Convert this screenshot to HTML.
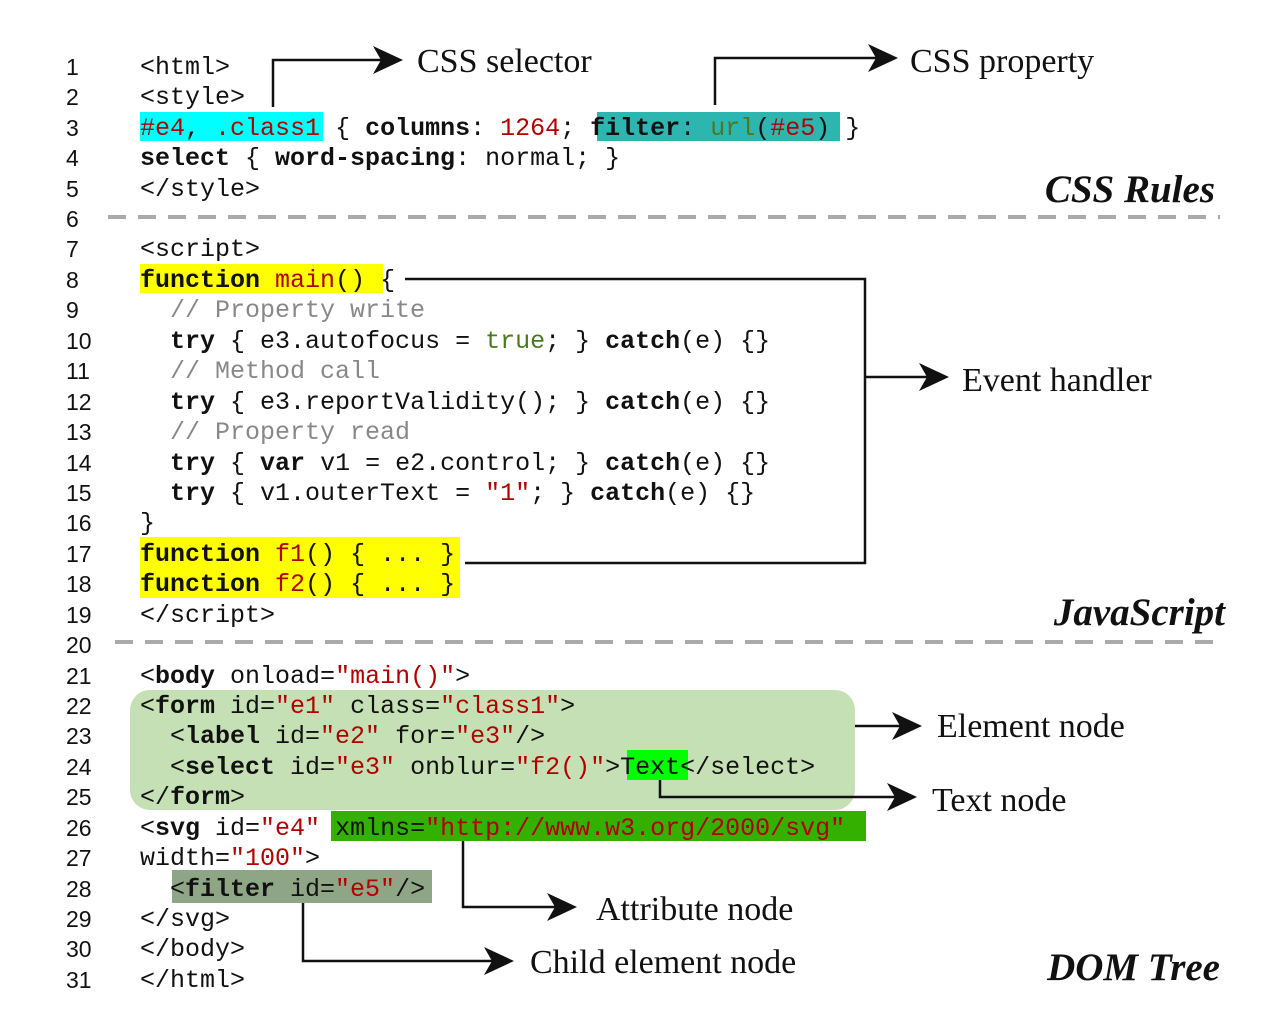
<!DOCTYPE html>
<html><head><meta charset="utf-8"><style>
body{margin:0;width:1272px;height:1020px;background:#fff;position:relative;overflow:hidden}
.l{position:absolute;left:140px;font:25px "Liberation Mono",monospace;line-height:30px;white-space:pre;color:#111;height:30px;margin-top:2px}
.n{position:absolute;left:66px;font:23px "Liberation Sans",sans-serif;line-height:30px;color:#111;margin-top:1px}
b{font-weight:bold}
.s{color:#b00000}.c{color:#888}.g{color:#4a7a20}
.r{position:absolute}
.t{position:absolute;font:34px "Liberation Serif",serif;color:#111;line-height:40px;white-space:nowrap}
.h{position:absolute;font:bold italic 39px "Liberation Serif",serif;color:#111;line-height:40px;white-space:nowrap}
</style></head><body>
<div class="r" style="left:140px;top:112px;width:183px;height:29px;background:#00ffff"></div>
<div class="r" style="left:597px;top:112px;width:243px;height:29px;background:#2db5b0"></div>
<div class="r" style="left:140px;top:264px;width:243px;height:29px;background:#ffff00"></div>
<div class="r" style="left:140px;top:537px;width:320px;height:61px;background:#ffff00"></div>
<div class="r" style="left:130px;top:690px;width:725px;height:120px;background:#c5e0b4;border-radius:20px"></div>
<div class="r" style="left:627px;top:750px;width:61px;height:30px;background:#00ff00"></div>
<div class="r" style="left:331px;top:811px;width:535px;height:30px;background:#33b000"></div>
<div class="r" style="left:172px;top:870px;width:260px;height:33px;background:#8fa686"></div>

<div class="n" style="top:51px">1</div><div class="l" style="top:51px">&lt;html&gt;</div>
<div class="n" style="top:81px">2</div><div class="l" style="top:81px">&lt;style&gt;</div>
<div class="n" style="top:112px">3</div><div class="l" style="top:112px"><span class="s">#e4</span>, <span class="s">.class1</span> { <b>columns</b>: <span class="s">1264</span>; <b>filter</b>: <span class="g">url</span>(<span class="s">#e5</span>) }</div>
<div class="n" style="top:142px">4</div><div class="l" style="top:142px"><b>select</b> { <b>word-spacing</b>: normal; }</div>
<div class="n" style="top:173px">5</div><div class="l" style="top:173px">&lt;/style&gt;</div>
<div class="n" style="top:203px">6</div>
<div class="n" style="top:233px">7</div><div class="l" style="top:233px">&lt;script&gt;</div>
<div class="n" style="top:264px">8</div><div class="l" style="top:264px"><b>function</b> <span class="s">main</span>() {</div>
<div class="n" style="top:294px">9</div><div class="l c" style="top:294px">  // Property write</div>
<div class="n" style="top:325px">10</div><div class="l" style="top:325px">  <b>try</b> { e3.autofocus = <span class="g">true</span>; } <b>catch</b>(e) {}</div>
<div class="n" style="top:355px">11</div><div class="l c" style="top:355px">  // Method call</div>
<div class="n" style="top:386px">12</div><div class="l" style="top:386px">  <b>try</b> { e3.reportValidity(); } <b>catch</b>(e) {}</div>
<div class="n" style="top:416px">13</div><div class="l c" style="top:416px">  // Property read</div>
<div class="n" style="top:447px">14</div><div class="l" style="top:447px">  <b>try</b> { <b>var</b> v1 = e2.control; } <b>catch</b>(e) {}</div>
<div class="n" style="top:477px">15</div><div class="l" style="top:477px">  <b>try</b> { v1.outerText = <span class="s">"1"</span>; } <b>catch</b>(e) {}</div>
<div class="n" style="top:507px">16</div><div class="l" style="top:507px">}</div>
<div class="n" style="top:538px">17</div><div class="l" style="top:538px"><b>function</b> <span class="s">f1</span>() { ... }</div>
<div class="n" style="top:568px">18</div><div class="l" style="top:568px"><b>function</b> <span class="s">f2</span>() { ... }</div>
<div class="n" style="top:599px">19</div><div class="l" style="top:599px">&lt;/script&gt;</div>
<div class="n" style="top:629px">20</div>
<div class="n" style="top:660px">21</div><div class="l" style="top:660px">&lt;<b>body</b> onload=<span class="s">"main()"</span>&gt;</div>
<div class="n" style="top:690px">22</div><div class="l" style="top:690px">&lt;<b>form</b> id=<span class="s">"e1"</span> class=<span class="s">"class1"</span>&gt;</div>
<div class="n" style="top:720px">23</div><div class="l" style="top:720px">  &lt;<b>label</b> id=<span class="s">"e2"</span> for=<span class="s">"e3"</span>/&gt;</div>
<div class="n" style="top:751px">24</div><div class="l" style="top:751px">  &lt;<b>select</b> id=<span class="s">"e3"</span> onblur=<span class="s">"f2()"</span>&gt;Text&lt;/select&gt;</div>
<div class="n" style="top:781px">25</div><div class="l" style="top:781px">&lt;/<b>form</b>&gt;</div>
<div class="n" style="top:812px">26</div><div class="l" style="top:812px">&lt;<b>svg</b> id=<span class="s">"e4"</span> xmlns=<span class="s">"http://www.w3.org/2000/svg"</span></div>
<div class="n" style="top:842px">27</div><div class="l" style="top:842px">width=<span class="s">"100"</span>&gt;</div>
<div class="n" style="top:873px">28</div><div class="l" style="top:873px">  &lt;<b>filter</b> id=<span class="s">"e5"</span>/&gt;</div>
<div class="n" style="top:903px">29</div><div class="l" style="top:903px">&lt;/svg&gt;</div>
<div class="n" style="top:933px">30</div><div class="l" style="top:933px">&lt;/body&gt;</div>
<div class="n" style="top:964px">31</div><div class="l" style="top:964px">&lt;/html&gt;</div>

<svg class="r" style="left:0;top:0" width="1272" height="1020">
<g stroke="#111" stroke-width="2.5" fill="none">
<line x1="108" y1="217" x2="1220" y2="217" stroke="#aaa" stroke-width="4" stroke-dasharray="18 12"/>
<line x1="115" y1="642" x2="1225" y2="642" stroke="#aaa" stroke-width="4" stroke-dasharray="18 12"/>
<polyline points="273,107 273,60 398,60"/>
<polyline points="715,105 715,58 893,58"/>
<polyline points="405,279 865,279 865,563 465,563"/>
<line x1="865" y1="377" x2="944" y2="377"/>
<line x1="855" y1="726" x2="918" y2="726"/>
<polyline points="660,780 660,797 913,797"/>
<polyline points="463,841 463,907 573,907"/>
<polyline points="303,903 303,961 510,961"/>
</g>
<g fill="#111">
<path d="M403,60 l-30,-14 l8,14 l-8,14z"/>
<path d="M898,58 l-30,-14 l8,14 l-8,14z"/>
<path d="M949,377 l-30,-14 l8,14 l-8,14z"/>
<path d="M922,726 l-30,-14 l8,14 l-8,14z"/>
<path d="M917,797 l-30,-14 l8,14 l-8,14z"/>
<path d="M577,907 l-30,-14 l8,14 l-8,14z"/>
<path d="M514,961 l-30,-14 l8,14 l-8,14z"/>
</g>
</svg>
<div class="t" style="left:417px;top:42px">CSS selector</div>
<div class="t" style="left:910px;top:42px">CSS property</div>
<div class="t" style="left:962px;top:361px">Event handler</div>
<div class="t" style="left:937px;top:707px">Element node</div>
<div class="t" style="left:932px;top:781px">Text node</div>
<div class="t" style="left:596px;top:890px">Attribute node</div>
<div class="t" style="left:530px;top:943px">Child element node</div>
<div class="h" style="right:57px;top:170px">CSS Rules</div>
<div class="h" style="right:47px;top:593px">JavaScript</div>
<div class="h" style="right:52px;top:948px">DOM Tree</div>
</body></html>
